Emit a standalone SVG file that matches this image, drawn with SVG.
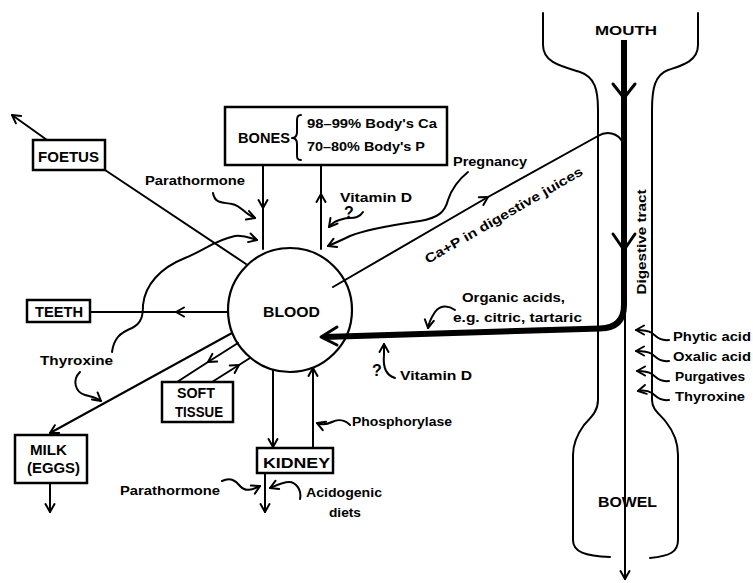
<svg xmlns="http://www.w3.org/2000/svg" width="753" height="583" viewBox="0 0 753 583">
<defs>
<style>
.ln{fill:none;stroke:#000;stroke-width:2;stroke-linecap:round;stroke-linejoin:round}
.wv{fill:none;stroke:#000;stroke-width:2;stroke-linecap:round}
.box{fill:#fff;stroke:#000;stroke-width:2.5}
.thick{fill:none;stroke:#000;stroke-width:6;stroke-linecap:butt;stroke-linejoin:round}
.chev{fill:none;stroke:#000;stroke-width:2;stroke-linecap:round;stroke-linejoin:round}
.chevT{fill:none;stroke:#000;stroke-width:3;stroke-linecap:round;stroke-linejoin:round}
text{font-family:"Liberation Sans",Arial,sans-serif;font-weight:bold;fill:#000;font-size:13px}
.big{font-size:15px}
.mid{font-size:14px}
.q{font-size:16px}
</style>
<marker id="ah" viewBox="0 0 12 12" refX="10" refY="6" markerWidth="12" markerHeight="12" markerUnits="userSpaceOnUse" orient="auto">
<path d="M2,1.5 L10,6 L2,10.5" fill="none" stroke="#000" stroke-width="2" stroke-linecap="round" stroke-linejoin="round"/>
</marker>
</defs>
<rect width="753" height="583" fill="#fff"/>

<g id="tract">
<path class="ln" d="M543,13 L543,45 C543,62 560,66 580,72 C595,77 598,90 598,110 L598,400 C598,412 590,418 584,425 C576,436 573,445 573,455 L573,540 C573,552 585,556 610,557"/>
<path class="ln" d="M698,13 L698,45 C698,62 680,66 668,70 C655,75 652,88 652,110 L652,400 C652,410 660,414 666,422 C674,432 678,442 678,455 L678,540 C678,552 670,556 650,558"/>
<text x="626" y="35" text-anchor="middle" font-size="12" textLength="62" lengthAdjust="spacingAndGlyphs">MOUTH</text>
<text transform="translate(646,242) rotate(-90)" text-anchor="middle" textLength="105" lengthAdjust="spacingAndGlyphs">Digestive tract</text>
<text x="598" y="507" class="mid" textLength="59" lengthAdjust="spacingAndGlyphs">BOWEL</text>
</g>

<g id="connectors">
<!-- thick digestive flow -->
<path class="thick" d="M624,40 L624,305 Q624,328 600,328.5 L324,337"/>
<path class="chevT" d="M613,84 L624,98 L635,84"/>
<path class="chevT" d="M613,234 L624,250 L635,234"/>
<path class="chevT" d="M337,327 L321,337 L337,345"/>
<!-- thin line through bowel -->
<path class="ln" d="M625,300 L625,579" marker-end="url(#ah)"/>
<!-- bones -->
<path class="ln" d="M263,165 L263,208" marker-end="url(#ah)"/>
<path class="ln" d="M263,208 L263,249"/>
<path class="ln" d="M321,249 L321,194" marker-end="url(#ah)"/>
<path class="ln" d="M321,194 L321,165"/>
<!-- foetus -->
<path class="ln" d="M246,264 L105,170"/>
<path class="ln" d="M47,140 L12,115" marker-end="url(#ah)"/>
<!-- teeth -->
<path class="ln" d="M228,312 L176,312" marker-end="url(#ah)"/>
<path class="ln" d="M176,312 L90,312"/>
<!-- soft tissue -->
<path class="ln" d="M238,343 L208,362" marker-end="url(#ah)"/>
<path class="ln" d="M208,362 L177,382"/>
<path class="ln" d="M212,382 L239,365" marker-end="url(#ah)"/>
<path class="ln" d="M239,365 L250,358"/>
<!-- milk -->
<path class="ln" d="M232,333 L50,433" marker-end="url(#ah)"/>
<path class="ln" d="M50,483 L50,512" marker-end="url(#ah)"/>
<!-- kidney -->
<path class="ln" d="M273,370 L273,447" marker-end="url(#ah)"/>
<path class="ln" d="M313,448 L313,368" marker-end="url(#ah)"/>
<path class="ln" d="M265,473 L265,512" marker-end="url(#ah)"/>
<!-- Ca + P line -->
<path class="ln" d="M333,287 L488,197" marker-end="url(#ah)"/>
<path class="ln" d="M488,197 L598,136 C606,131 618,132 623,143"/>
<!-- wavy influence arrows -->
<path class="wv" d="M213,193 C215,205 225,202 232,204 C242,206 244,214 255,218" marker-end="url(#ah)"/>
<path class="wv" d="M112,352 C114,338 120,333 132,328 C142,323 143,315 143,305 C145,285 160,268 185,258 C205,250 215,240 235,236 C245,235 250,238 257,240" marker-end="url(#ah)"/>
<path class="wv" d="M80,372 C72,380 75,392 85,395 C92,397 96,397 101,401" marker-end="url(#ah)"/>
<path class="wv" d="M363,212 C358,220 350,217 343,219 C336,221 333,222 329,227" marker-end="url(#ah)"/>
<path class="wv" d="M468,172 C458,180 452,188 448,200 C445,212 438,218 420,221 C400,224 370,228 350,236 C342,240 335,243 328,246" marker-end="url(#ah)"/>
<path class="wv" d="M350,425 C345,420 338,419 332,422 C326,425 322,425 317,423" marker-end="url(#ah)"/>
<path class="wv" d="M222,481 C230,477 235,480 240,486 C245,492 252,490 260,486" marker-end="url(#ah)"/>
<path class="wv" d="M300,499 C302,490 296,482 289,482 C283,482 277,485 270,488" marker-end="url(#ah)"/>
<path class="wv" d="M455,310 C448,305 440,305 435,312 C431,318 429,322 428,328" marker-end="url(#ah)"/>
<path class="wv" d="M395,378 C385,375 383,365 384,355 C384,350 384,347 384,344" marker-end="url(#ah)"/>
<path class="wv" d="M669,340 C660,341 657,337 652,333 C647,330 642,330 636,330" marker-end="url(#ah)"/>
<path class="wv" d="M669,361 C660,362 657,358 652,354 C647,351 642,351 636,351" marker-end="url(#ah)"/>
<path class="wv" d="M669,381 C660,382 657,378 652,374 C647,371 642,371 637,371" marker-end="url(#ah)"/>
<path class="wv" d="M669,400 C660,401 657,397 652,393 C647,390 643,390 638,391" marker-end="url(#ah)"/>
</g>

<g id="blood">
<circle cx="290" cy="310" r="62" fill="none" stroke="#000" stroke-width="2.2"/>
<text x="263" y="317" class="big" textLength="57" lengthAdjust="spacingAndGlyphs">BLOOD</text>
</g>

<g id="bones">
<rect class="box" x="225" y="107" width="222" height="58"/>
<text x="238" y="143" class="big" textLength="52" lengthAdjust="spacingAndGlyphs">BONES</text>
<path class="ln" d="M301,115 C297,115 297,118 297,122 L297,132 C297,136 295,138 292,138 C295,138 297,140 297,144 L297,154 C297,158 297,160 301,160"/>
<text x="307" y="128" textLength="130" lengthAdjust="spacingAndGlyphs">98–99% Body's Ca</text>
<text x="307" y="151" textLength="118" lengthAdjust="spacingAndGlyphs">70–80% Body's P</text>
</g>

<g id="foetus">
<rect class="box" x="33" y="140" width="72" height="30"/>
<text x="38" y="162" class="big" textLength="61" lengthAdjust="spacingAndGlyphs">FOETUS</text>
</g>

<g id="teeth">
<rect class="box" x="27" y="300" width="63" height="22"/>
<text x="35" y="317" class="big" textLength="48" lengthAdjust="spacingAndGlyphs">TEETH</text>
</g>

<g id="soft-tissue">
<rect class="box" x="162" y="382" width="71" height="40"/>
<text x="177" y="398" class="mid" textLength="38" lengthAdjust="spacingAndGlyphs">SOFT</text>
<text x="175" y="417" class="mid" textLength="48" lengthAdjust="spacingAndGlyphs">TISSUE</text>
</g>

<g id="milk">
<rect class="box" x="15" y="435" width="72" height="48"/>
<text x="30" y="455" class="mid" textLength="37" lengthAdjust="spacingAndGlyphs">MILK</text>
<text x="27" y="473" class="mid" textLength="53" lengthAdjust="spacingAndGlyphs">(EGGS)</text>
</g>

<g id="kidney">
<rect class="box" x="257" y="448" width="76" height="25"/>
<text x="263" y="468" class="mid" textLength="67" lengthAdjust="spacingAndGlyphs">KIDNEY</text>
</g>

<g id="labels">
<text x="145" y="185" textLength="100" lengthAdjust="spacingAndGlyphs">Parathormone</text>
<text x="340" y="202" textLength="72" lengthAdjust="spacingAndGlyphs">Vitamin D</text>
<text x="344" y="218" class="q">?</text>
<text x="453" y="166" textLength="74" lengthAdjust="spacingAndGlyphs">Pregnancy</text>
<text transform="translate(428,264) rotate(-30)" textLength="180" lengthAdjust="spacingAndGlyphs">Ca+P in digestive juices</text>
<text x="40" y="365" textLength="73" lengthAdjust="spacingAndGlyphs">Thyroxine</text>
<text x="352" y="426" textLength="100" lengthAdjust="spacingAndGlyphs">Phosphorylase</text>
<text x="120" y="495" textLength="100" lengthAdjust="spacingAndGlyphs">Parathormone</text>
<text x="306" y="497" textLength="76" lengthAdjust="spacingAndGlyphs">Acidogenic</text>
<text x="329" y="517" textLength="32" lengthAdjust="spacingAndGlyphs">diets</text>
<text x="462" y="302" textLength="103" lengthAdjust="spacingAndGlyphs">Organic acids,</text>
<text x="453" y="322" textLength="129" lengthAdjust="spacingAndGlyphs">e.g. citric, tartaric</text>
<text x="372" y="376" class="q">?</text>
<text x="400" y="380" textLength="72" lengthAdjust="spacingAndGlyphs">Vitamin D</text>
<text x="673" y="341" textLength="78" lengthAdjust="spacingAndGlyphs">Phytic acid</text>
<text x="673" y="361" textLength="78" lengthAdjust="spacingAndGlyphs">Oxalic acid</text>
<text x="675" y="381" textLength="70" lengthAdjust="spacingAndGlyphs">Purgatives</text>
<text x="675" y="401" textLength="70" lengthAdjust="spacingAndGlyphs">Thyroxine</text>
</g>
</svg>
